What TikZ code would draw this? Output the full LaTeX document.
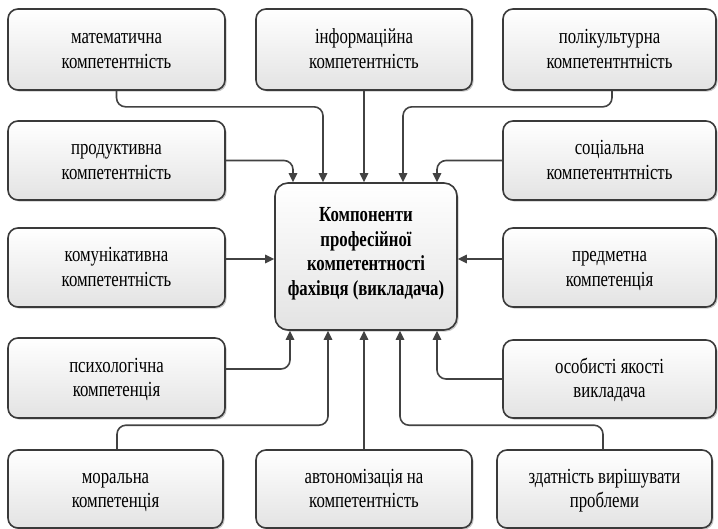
\documentclass[tikz,border=0pt]{standalone}
\usepackage{fontspec}
\setmainfont{Liberation Serif}[FakeStretch=0.78]
\usetikzlibrary{arrows.meta,shadows}
\definecolor{edge}{HTML}{3A3A3A}
\definecolor{wire}{HTML}{424242}
\tikzset{
  card/.style={draw=edge, line width=1.6pt, rounded corners=10pt,
    top color=white, bottom color=black!11,
    drop shadow={shadow xshift=1.6pt, shadow yshift=-1.6pt, opacity=0.22, fill=black},
    align=center, inner sep=0pt, text height=37pt, text depth=0pt,
    font=\fontsize{21.5}{24.5}\selectfont},
  hub/.style={card, rounded corners=13pt, text height=77pt,
    font=\fontsize{21.5}{24.5}\selectfont\bfseries},
  wire/.style={draw=wire, line width=1.6pt, rounded corners=9pt,
    -{Triangle[length=9pt,width=8.5pt]}}
}
\begin{document}
\begin{tikzpicture}[x=1pt,y=-1pt]
\useasboundingbox (0,0) rectangle (718,528);

% central node
\node[hub, minimum width=182pt, minimum height=147pt] (cen) at (366,256.5)
  {Компоненти\\професійної\\компетентності\\фахівця (викладача)};

% outer nodes
\node[card, minimum width=217pt, minimum height=81pt] (mat)  at (116.5,49.5) {математична\\компетентність};
\node[card, minimum width=216pt, minimum height=81pt] (inf)  at (364,49.5)   {інформаційна\\компетентність};
\node[card, minimum width=213pt, minimum height=81pt] (pol)  at (609.5,49.5) {полікультурна\\компетентнтність};

\node[card, minimum width=217pt, minimum height=79pt] (prod) at (116.5,160.5) {продуктивна\\компетентність};
\node[card, minimum width=213pt, minimum height=79pt] (soc)  at (609.5,160.5) {соціальна\\компетентнтність};

\node[card, minimum width=217pt, minimum height=79pt] (kom)  at (116.5,267.5) {комунікативна\\компетентність};
\node[card, minimum width=213pt, minimum height=79pt] (pred) at (609.5,267.5) {предметна\\компетенція};

\node[card, minimum width=217pt, minimum height=80pt] (psy)  at (116.5,378) {психологічна\\компетенція};
\node[card, minimum width=213pt, minimum height=78pt] (oso)  at (609.5,379) {особисті якості\\викладача};

\node[card, minimum width=215pt, minimum height=78pt] (mor)  at (115.5,489) {моральна\\компетенція};
\node[card, minimum width=216pt, minimum height=78pt] (aut)  at (364,489)   {автономізація на\\компетентність};
\node[card, minimum width=215pt, minimum height=78pt] (zd)   at (604.5,489) {здатність вирішувати\\проблеми};

% connectors from above
\draw[wire] (mat.south) -- ++(0,16) -| ([xshift=-43pt]cen.north);
\draw[wire] (inf.south) -- (inf.south |- cen.north);
\draw[wire] ([xshift=2.5pt]pol.south) -- ++(0,16) -| ([xshift=37pt]cen.north);
\draw[wire] (prod.east) -| ([xshift=-73pt]cen.north);
\draw[wire] (soc.west) -| ([xshift=71pt]cen.north);

% connectors from the sides
\draw[wire] ([yshift=8.5pt]kom.east) -- ([yshift=8.5pt]kom.east -| cen.west);
\draw[wire] ([yshift=8.5pt]pred.west) -- ([yshift=8.5pt]pred.west -| cen.east);

% connectors from below
\draw[wire] ([yshift=9pt]psy.east) -| ([xshift=-76pt]cen.south);
\draw[wire] ([xshift=1.5pt]mor.north) -- ++(0,-24) -| ([xshift=-38pt]cen.south);
\draw[wire] (aut.north) -- (aut.north |- cen.south);
\draw[wire] ([xshift=-1.5pt]zd.north) -- ++(0,-24) -| ([xshift=34pt]cen.south);
\draw[wire] (oso.west) -| ([xshift=71pt]cen.south);
\end{tikzpicture}
\end{document}
